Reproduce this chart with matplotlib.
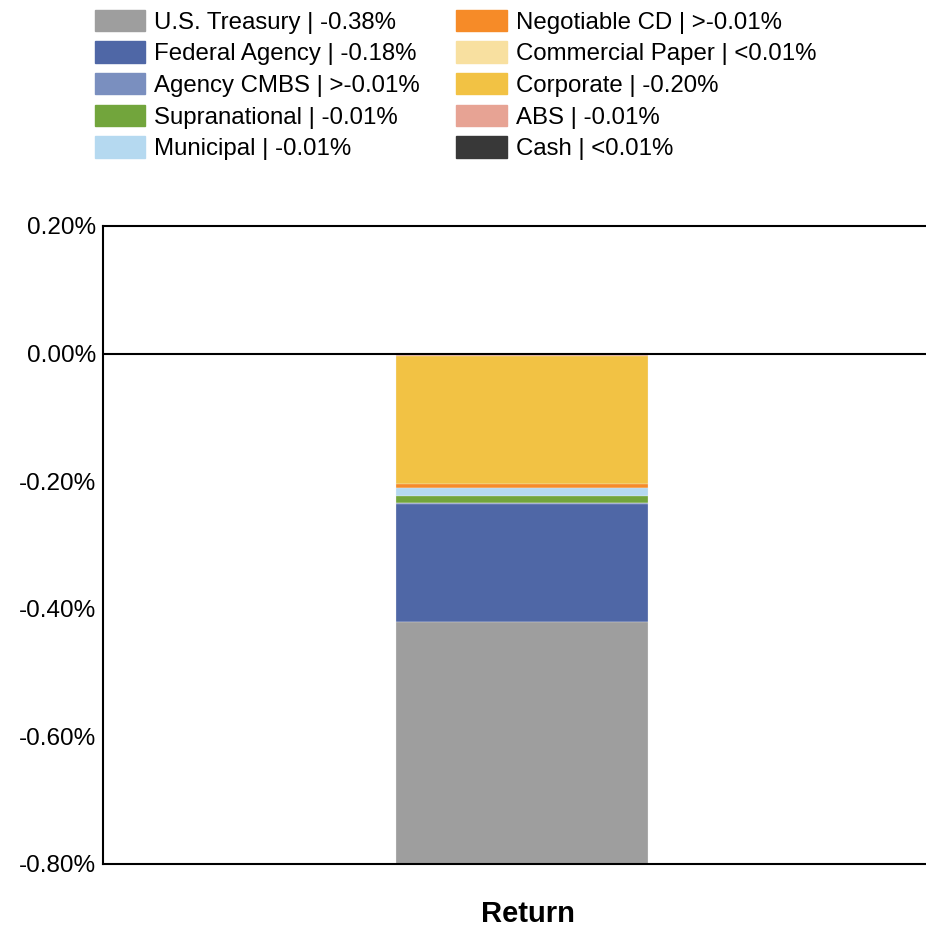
import numpy as np
import matplotlib
matplotlib.use("Agg")
import matplotlib.pyplot as plt
import matplotlib.ticker as plticker

plt.rcParams['font.family'] = ['Liberation Sans', 'DejaVu Sans']

# series in legend order (values in %)
sectors = ['U.S. Treasury', 'Federal Agency', 'Agency CMBS', 'Supranational', 'Municipal',
           'Negotiable CD', 'Commercial Paper', 'Corporate', 'ABS', 'Cash']
returns = [-0.380, -0.185, -0.0015, -0.011, -0.0125,
           -0.006, 0.0005, -0.200, -0.004, 0.0003]
shown = ['-0.38%', '-0.18%', '>-0.01%', '-0.01%', '-0.01%',
         '>-0.01%', '<0.01%', '-0.20%', '-0.01%', '<0.01%']
colors = ['#9E9E9E', '#4F67A6', '#7A8FBF', '#72A53C', '#B5D9F0',
          '#F68B28', '#F8E0A0', '#F2C244', '#E7A394', '#383838']
category = ['Return']

fig = plt.figure(figsize=(9.26, 9.27), dpi=100)
ax = fig.add_axes([103 / 926, 1 - 864 / 927, 838 / 926, 638 / 927])

x = np.arange(len(category))
pos_base = np.zeros(len(category))
neg_base = np.zeros(len(category))
# last series sits closest to zero
for i in reversed(range(len(sectors))):
    v = np.array([returns[i]])
    bottom = np.where(v >= 0, pos_base, neg_base)
    ax.bar(x, v, 0.3, bottom=bottom, color=colors[i], edgecolor='#f4f4f4',
           linewidth=0.2, zorder=2)
    pos_base = pos_base + np.where(v >= 0, v, 0)
    neg_base = neg_base + np.where(v < 0, v, 0)
handles = [plt.Rectangle((0, 0), 1, 1, color=c) for c in colors]
labels = ['%s | %s' % (s, t) for s, t in zip(sectors, shown)]

ax.axhline(0, color='black', linewidth=1.5, zorder=3)
ax.set_xlim(-0.5, 0.5)
ax.set_ylim(-0.8, 0.2)
ax.yaxis.set_major_locator(plticker.MultipleLocator(0.2))
ax.yaxis.set_major_formatter(plticker.FuncFormatter(lambda v, p: '%.2f%%' % v))
ax.set_xticks(x)
ax.set_xticklabels([])
ax.tick_params(axis='both', length=0, labelsize=17.5, pad=5)
ax.set_xlabel(category[0], fontsize=21, fontweight='bold')
ax.xaxis.label.set_va('center')
ax.xaxis.set_label_coords((528 - 103) / 838, -(914 - 864) / 638)

for side in ['top', 'bottom', 'left']:
    ax.spines[side].set_linewidth(1.5)
ax.spines['right'].set_visible(False)

fig.legend(handles, labels, ncol=2, loc='upper left', bbox_to_anchor=(0.092, 1.0),
           frameon=False, fontsize=17.3, handlelength=2.1, handleheight=1.0,
           handletextpad=0.38, labelspacing=0.32, columnspacing=1.5,
           borderaxespad=0.0)

fig.savefig('out.png', dpi=100)
